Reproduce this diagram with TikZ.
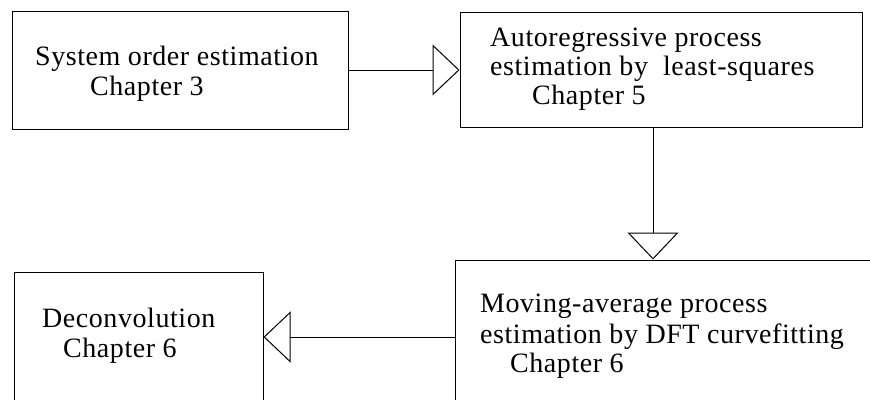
\documentclass[tikz,border=0pt]{standalone}
\usepackage{fontspec}
\setmainfont{Liberation Serif}[LetterSpace=2]
\usetikzlibrary{arrows.meta}
\tikzset{
  box/.style={draw, line width=1pt, inner sep=0pt},
  txt/.style={anchor=base west, inner sep=0pt, align=left,
    font=\fontsize{28}{29.5}\selectfont},
  conn/.style={line width=1pt, -{Triangle[open, length=27pt, width=51pt, line width=1pt]}}
}
\begin{document}
\begin{tikzpicture}[x=1pt, y=-1pt]
\clip (0,0) rectangle (870,399);
\fill[white] (0,0) rectangle (870,399);
% boxes
\node[box, minimum width=336pt, minimum height=118pt] (b1) at (180,70) {};
\node[box, minimum width=402pt, minimum height=115pt] (b2) at (661,69.5) {};
\node[box, minimum width=445pt, minimum height=154pt] (b3) at (677.5,337) {};
\node[box, minimum width=249pt, minimum height=130pt] (b4) at (138.5,337) {};
% texts
\node[txt] (t1a) at (35,65) {System order estimation};
\node[txt] (t1b) at (90,95) {Chapter 3};
\node[txt] (t2a) at (490,46) {Autoregressive process};
\node[txt] (t2b) at (490,75) {estimation by\ \ least-squares};
\node[txt] (t2c) at (532,104) {Chapter 5};
\node[txt] (t3a) at (480,312) {Moving-average process};
\node[txt] (t3b) at (480,343) {estimation by DFT curvefitting};
\node[txt] (t3c) at (510,372) {Chapter 6};
\node[txt] (t4a) at (42,327) {Deconvolution};
\node[txt] (t4b) at (63,357) {Chapter 6};
% connectors
\draw[conn] (b1.east) -- (b2.west |- b1.east);
\draw[conn] ([xshift=-8pt]b2.south) -- ([xshift=-8pt]b2.south |- b3.north);
\draw[conn] (b3.west) -- (b4.east);
\end{tikzpicture}
\end{document}
